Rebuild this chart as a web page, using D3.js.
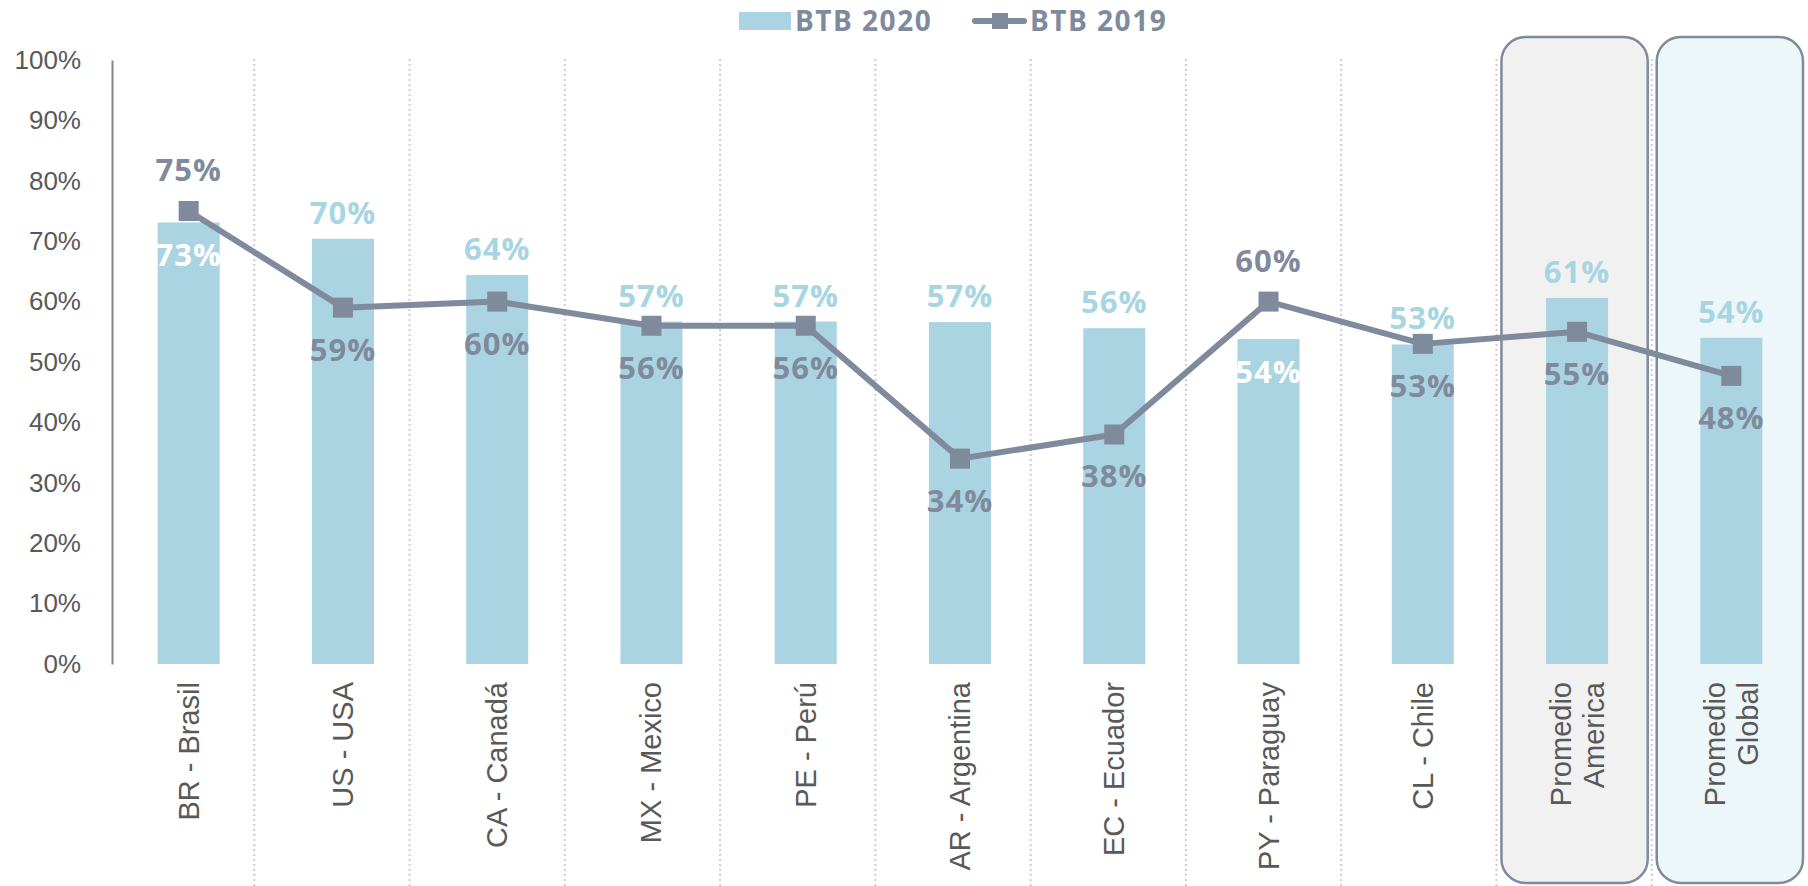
<!DOCTYPE html>
<html>
  <head>
    <meta charset="UTF-8">
    <title>BTB 2020 vs BTB 2019</title>
    <script src="https://cdn.jsdelivr.net/npm/d3@7"></script>
    <style>
      body { margin: 0; background: #ffffff; }
      svg  { display: block; }
      .tick text { font-family: "Liberation Sans", Arial, sans-serif; }
    </style>
  </head>
  <body>
    <script>
      // chart data
      var categories = ["BR - Brasil", "US - USA", "CA - Canadá", "MX - Mexico", "PE - Perú",
                        "AR - Argentina", "EC - Ecuador", "PY - Paraguay", "CL - Chile",
                        "Promedio\nAmerica", "Promedio\nGlobal"];
      var btb2020 = [73.1, 70.4, 64.4, 56.7, 56.7, 56.6, 55.6, 53.8, 52.9, 60.6, 54.0];
      var btb2019 = [75, 59, 60, 56, 56, 34, 38, 60, 53, 55, 47.7];
      var yTicks = [0, 10, 20, 30, 40, 50, 60, 70, 80, 90, 100];
      var seriesNames = ["BTB 2020", "BTB 2019"];

      // label placement (which labels sit inside the bar / above the marker)
      var barLabelInside = ["BR - Brasil", "PY - Paraguay"];
      var lineLabelAbove = ["BR - Brasil", "PY - Paraguay"];
      // highlighted averages
      var boxFill = { "Promedio\nAmerica": "#f1f1f1", "Promedio\nGlobal": "#edf6f9" };

      var barColor = "#aad4e1";
      var lineColor = "#7f8a9c";
      var textGrey = "#595959";

      var width = 1808, height = 886;
      var svg = d3.select("body").append("svg")
        .attr("width", width)
        .attr("height", height);

      var x = d3.scaleBand()
        .domain(categories)
        .range([112, 1808])
        .paddingInner(0.598)
        .paddingOuter(0.296);

      // columns used for the dotted separators and the rounded boxes
      var xCol = d3.scaleBand()
        .domain(categories)
        .range([99, 1807]);

      var y = d3.scaleLinear()
        .domain([0, 100])
        .range([664, 60]);

      var cx = function (c) { return x(c) + x.bandwidth() / 2; };

      // rounded boxes behind the averages
      svg.append("g").selectAll("rect")
        .data(categories.filter(function (c) { return boxFill[c]; }))
        .enter().append("rect")
        .attr("x", function (c) { return xCol(c) + 5; })
        .attr("y", 37)
        .attr("width", xCol.bandwidth() - 9)
        .attr("height", 846)
        .attr("rx", 24)
        .style("fill", function (c) { return boxFill[c]; })
        .style("stroke", lineColor)
        .style("stroke-width", 2.5);

      // dotted separators
      svg.append("g").selectAll("line")
        .data(categories.slice(1))
        .enter().append("line")
        .attr("x1", function (c) { return xCol(c); })
        .attr("x2", function (c) { return xCol(c); })
        .attr("y1", 59)
        .attr("y2", height)
        .style("stroke", "#cdcdcd")
        .style("stroke-width", 2)
        .style("stroke-dasharray", "2,3");

      // y axis
      var yAxis = svg.append("g")
        .attr("transform", "translate(112,0)")
        .call(d3.axisLeft(y)
          .tickValues(yTicks)
          .tickSize(0)
          .tickPadding(31)
          .tickFormat(function (d) { return d + "%"; }));
      yAxis.select(".domain").style("stroke", "#868686").style("stroke-width", 2);
      yAxis.selectAll("text")
        .style("font-size", "26px")
        .style("fill", textGrey);

      // bars
      svg.append("g").selectAll("rect")
        .data(categories)
        .enter().append("rect")
        .attr("x", function (c) { return x(c); })
        .attr("y", function (c, i) { return y(btb2020[i]); })
        .attr("width", x.bandwidth())
        .attr("height", function (c, i) { return y(0) - y(btb2020[i]); })
        .style("fill", barColor);

      // line
      var line = d3.line()
        .x(function (c) { return cx(c); })
        .y(function (c, i) { return y(btb2019[i]); });

      svg.append("path")
        .datum(categories)
        .attr("d", line)
        .style("fill", "none")
        .style("stroke", lineColor)
        .style("stroke-width", 6)
        .style("stroke-linejoin", "round");

      svg.append("g").selectAll("rect")
        .data(categories)
        .enter().append("rect")
        .attr("x", function (c) { return cx(c) - 10; })
        .attr("y", function (c, i) { return y(btb2019[i]) - 10; })
        .attr("width", 20)
        .attr("height", 20)
        .style("fill", lineColor);

      // data labels
      var labelFont = "'Open Sans', 'DejaVu Sans', sans-serif";

      svg.append("g").selectAll("text")
        .data(categories)
        .enter().append("text")
        .attr("x", function (c) { return cx(c); })
        .attr("y", function (c, i) {
          return barLabelInside.indexOf(c) >= 0 ? y(btb2020[i]) + 44 : y(btb2020[i]) - 15;
        })
        .attr("text-anchor", "middle")
        .style("font-family", labelFont)
        .style("font-weight", 700)
        .style("font-size", "31px")
        .style("letter-spacing", "1px")
        .style("fill", function (c) { return barLabelInside.indexOf(c) >= 0 ? "#ffffff" : "#a8d5e2"; })
        .text(function (c, i) { return Math.round(btb2020[i]) + "%"; });

      svg.append("g").selectAll("text")
        .data(categories)
        .enter().append("text")
        .attr("x", function (c) { return cx(c); })
        .attr("y", function (c, i) {
          return lineLabelAbove.indexOf(c) >= 0 ? y(btb2019[i]) - 30 : y(btb2019[i]) + 53;
        })
        .attr("text-anchor", "middle")
        .style("font-family", labelFont)
        .style("font-weight", 700)
        .style("font-size", "31px")
        .style("letter-spacing", "1px")
        .style("fill", lineColor)
        .text(function (c, i) { return Math.round(btb2019[i]) + "%"; });

      // category labels, rotated
      var catLabels = svg.append("g").selectAll("text")
        .data(categories)
        .enter().append("text")
        .attr("transform", function (c) { return "translate(" + cx(c) + ",682) rotate(-90)"; })
        .attr("text-anchor", "end")
        .style("font-family", "'Liberation Sans', Arial, sans-serif")
        .style("font-size", "29px")
        .style("fill", textGrey);

      catLabels.each(function (c) {
        var lines = c.split("\n");
        var t = d3.select(this);
        lines.forEach(function (s, k) {
          t.append("tspan")
            .attr("x", 0)
            .attr("y", 10 + (k - (lines.length - 1) / 2) * 33)
            .text(s);
        });
      });

      // legend
      var legend = svg.append("g")
        .style("font-family", labelFont)
        .style("font-weight", 700)
        .style("font-size", "28px")
        .style("letter-spacing", "1.5px")
        .style("fill", lineColor);

      legend.append("rect")
        .attr("x", 739).attr("y", 12)
        .attr("width", 52).attr("height", 18)
        .style("fill", barColor);
      legend.append("text")
        .attr("x", 795).attr("y", 31)
        .text(seriesNames[0]);

      legend.append("line")
        .attr("x1", 975).attr("x2", 1024)
        .attr("y1", 21).attr("y2", 21)
        .style("stroke", lineColor)
        .style("stroke-width", 6)
        .style("stroke-linecap", "round");
      legend.append("rect")
        .attr("x", 992).attr("y", 13)
        .attr("width", 16).attr("height", 16)
        .style("fill", lineColor);
      legend.append("text")
        .attr("x", 1030).attr("y", 31)
        .text(seriesNames[1]);
    </script>
  </body>
</html>
